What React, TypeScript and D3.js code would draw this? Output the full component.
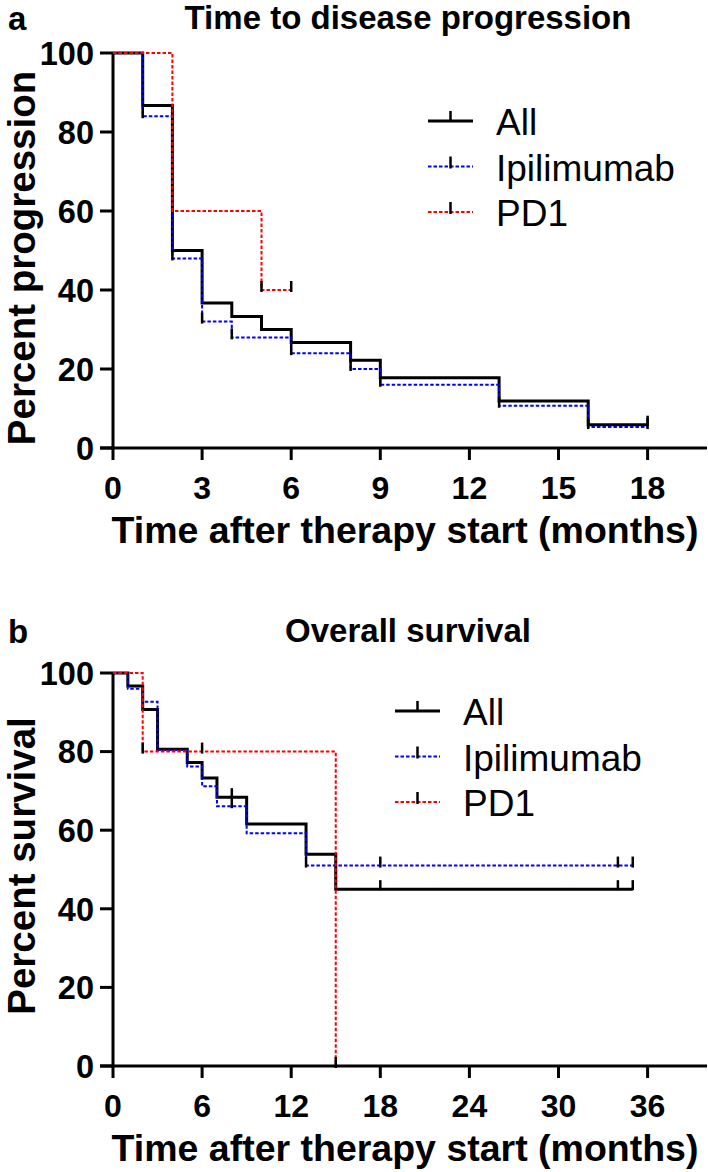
import React from 'react';
import * as d3 from 'd3';

// tick labels
const progXTicks = [0, 3, 6, 9, 12, 15, 18];
const survXTicks = [0, 6, 12, 18, 24, 30, 36];
const pctTicks = [0, 20, 40, 60, 80, 100];
const groups = ['All', 'Ipilimumab', 'PD1'];

// a: time to disease progression (step times / percent)
const progAllT = [0, 1, 2, 3, 4, 5, 6, 8, 9, 13, 16, 18];
const progAllV = [100, 86.7, 50, 36.7, 33.3, 30, 26.7, 22.2, 17.8, 11.9, 5.9, 5.9];
const progAllCens = [18];
const progIpiT = [0, 1, 2, 3, 4, 6, 8, 9, 13, 16, 18];
const progIpiV = [100, 84, 48, 32, 28, 24, 20, 16, 10.7, 5.3, 5.3];
const progIpiCens = [1, 2, 3, 4, 6, 8, 9, 13, 16, 18];
const progPdT = [0, 2, 5, 6];
const progPdV = [100, 60, 40, 40];
const progPdCens = [5, 6];

// b: overall survival
const survAllT = [0, 1, 2, 3, 5, 6, 7, 9, 13, 15, 35];
const survAllV = [100, 96.7, 90.7, 80.6, 77.2, 73.3, 68.4, 61.6, 53.9, 45, 45];
const survAllCens = [8, 18, 34, 35];
const survIpiT = [0, 1, 2, 3, 5, 6, 7, 9, 13, 35];
const survIpiV = [100, 96, 92.7, 80.4, 76.2, 71.2, 66.1, 59.2, 51, 51];
const survIpiCens = [8, 13, 18, 34, 35];
const survPdT = [0, 2, 15, 15];
const survPdV = [100, 80, 0, 0];
const survPdCens = [2, 6, 15];

const FONT = "'Liberation Sans', Arial, Helvetica, sans-serif";
const colors = ['#000000', '#0000ff', '#ff0000'];

type Series = { t: number[]; v: number[]; cens: number[] };

function Panel(props: {
  top: number; bottom: number; xMax: number; xTicks: number[];
  series: Series[]; letter: string; title: string; titleY: number;
  ylabel: string; ylabelY: number; legendY: number; legendX: number;
}) {
  const p = props;
  const x = d3.scaleLinear().domain([0, p.xMax]).range([113, 707]);
  const y = d3.scaleLinear().domain([0, 100]).range([p.bottom, p.top]);

  const paths = p.series.map(s => {
    const pts: [number, number][] = s.t.map((t, i) => [x(t), y(s.v[i])]);
    return d3.line().curve(d3.curveStepAfter)(pts) || '';
  });

  const valAt = (s: Series, t: number) => {
    const i = d3.bisectRight(s.t, t) - 1;
    return s.v[Math.max(0, i)];
  };
  const lx = p.legendX;

  return (
    <g>
      <text x={8} y={p.titleY + 1} fontSize={33} fontWeight="bold" fontFamily={FONT}>{p.letter}</text>
      <text x={408} y={p.titleY} fontSize={33} fontWeight="bold" fontFamily={FONT} textAnchor="middle">{p.title}</text>
      <text transform={`translate(35,${p.ylabelY}) rotate(-90)`} fontSize={38.5} fontWeight="bold" fontFamily={FONT} textAnchor="middle">{p.ylabel}</text>

      {/* axes */}
      <line x1={113} x2={113} y1={p.top} y2={p.bottom} stroke="#000" strokeWidth={3} />
      <line x1={100} x2={707} y1={p.bottom} y2={p.bottom} stroke="#000" strokeWidth={3} />
      {pctTicks.map(t => (
        <g key={'y' + t}>
          <line x1={100} x2={113} y1={y(t)} y2={y(t)} stroke="#000" strokeWidth={3} />
          <text x={94} y={y(t)} dy="0.36em" fontSize={32.5} fontWeight="bold" fontFamily={FONT} textAnchor="end">{t}</text>
        </g>
      ))}
      {p.xTicks.map(t => (
        <g key={'x' + t}>
          <line x1={x(t)} x2={x(t)} y1={p.bottom} y2={p.bottom + 12} stroke="#000" strokeWidth={3} />
          <text x={x(t)} y={p.bottom + 51} fontSize={32} fontWeight="bold" fontFamily={FONT} textAnchor="middle">{t}</text>
        </g>
      ))}
      <text x={405} y={p.bottom + 95} fontSize={37.5} fontWeight="bold" fontFamily={FONT} textAnchor="middle">Time after therapy start (months)</text>

      {/* survival curves */}
      {paths.map((d, i) => (
        <path key={'c' + i} d={d} fill="none" stroke={colors[i]}
          strokeWidth={i === 0 ? 3 : 2} strokeDasharray={i === 0 ? undefined : '3.5,2'} />
      ))}
      {p.series.map((s, i) => s.cens.map(t => (
        <line key={'k' + i + '-' + t} x1={x(t)} x2={x(t)} y1={y(valAt(s, t)) - 9} y2={y(valAt(s, t)) + (i === 0 ? 1 : 2)}
          stroke="#000" strokeWidth={2.5} />
      )))}

      {/* legend */}
      {groups.map((g, i) => {
        const ly = p.legendY + i * 45.5;
        return (
          <g key={'l' + g}>
            <line x1={lx} x2={lx + 45} y1={ly} y2={ly} stroke={colors[i]}
              strokeWidth={i === 0 ? 3 : 2} strokeDasharray={i === 0 ? undefined : '3.5,2'} />
            <line x1={lx + 22.5} x2={lx + 22.5} y1={ly - 10} y2={ly + (i === 0 ? 0 : 2)} stroke="#000" strokeWidth={2.5} />
            <text x={lx + 68} y={ly + 14} fontSize={37} fontFamily={FONT}>{g}</text>
          </g>
        );
      })}
    </g>
  );
}

export default function App() {
  const progSeries: Series[] = [
    { t: progAllT, v: progAllV, cens: progAllCens },
    { t: progIpiT, v: progIpiV, cens: progIpiCens },
    { t: progPdT, v: progPdV, cens: progPdCens },
  ];
  const survSeries: Series[] = [
    { t: survAllT, v: survAllV, cens: survAllCens },
    { t: survIpiT, v: survIpiV, cens: survIpiCens },
    { t: survPdT, v: survPdV, cens: survPdCens },
  ];
  return (
    <svg width={708} height={1172} style={{ position: 'absolute', left: 0, top: 0, background: '#fff' }}>
      <rect width={708} height={1172} fill="#fff" />
      <Panel top={53} bottom={448} xMax={20} xTicks={progXTicks} series={progSeries}
        letter="a" title="Time to disease progression" titleY={29}
        ylabel="Percent progression" ylabelY={258} legendY={121} legendX={428} />
      <Panel top={673} bottom={1066} xMax={40} xTicks={survXTicks} series={survSeries}
        letter="b" title="Overall survival" titleY={642}
        ylabel="Percent survival" ylabelY={866} legendY={711} legendX={395} />
    </svg>
  );
}
